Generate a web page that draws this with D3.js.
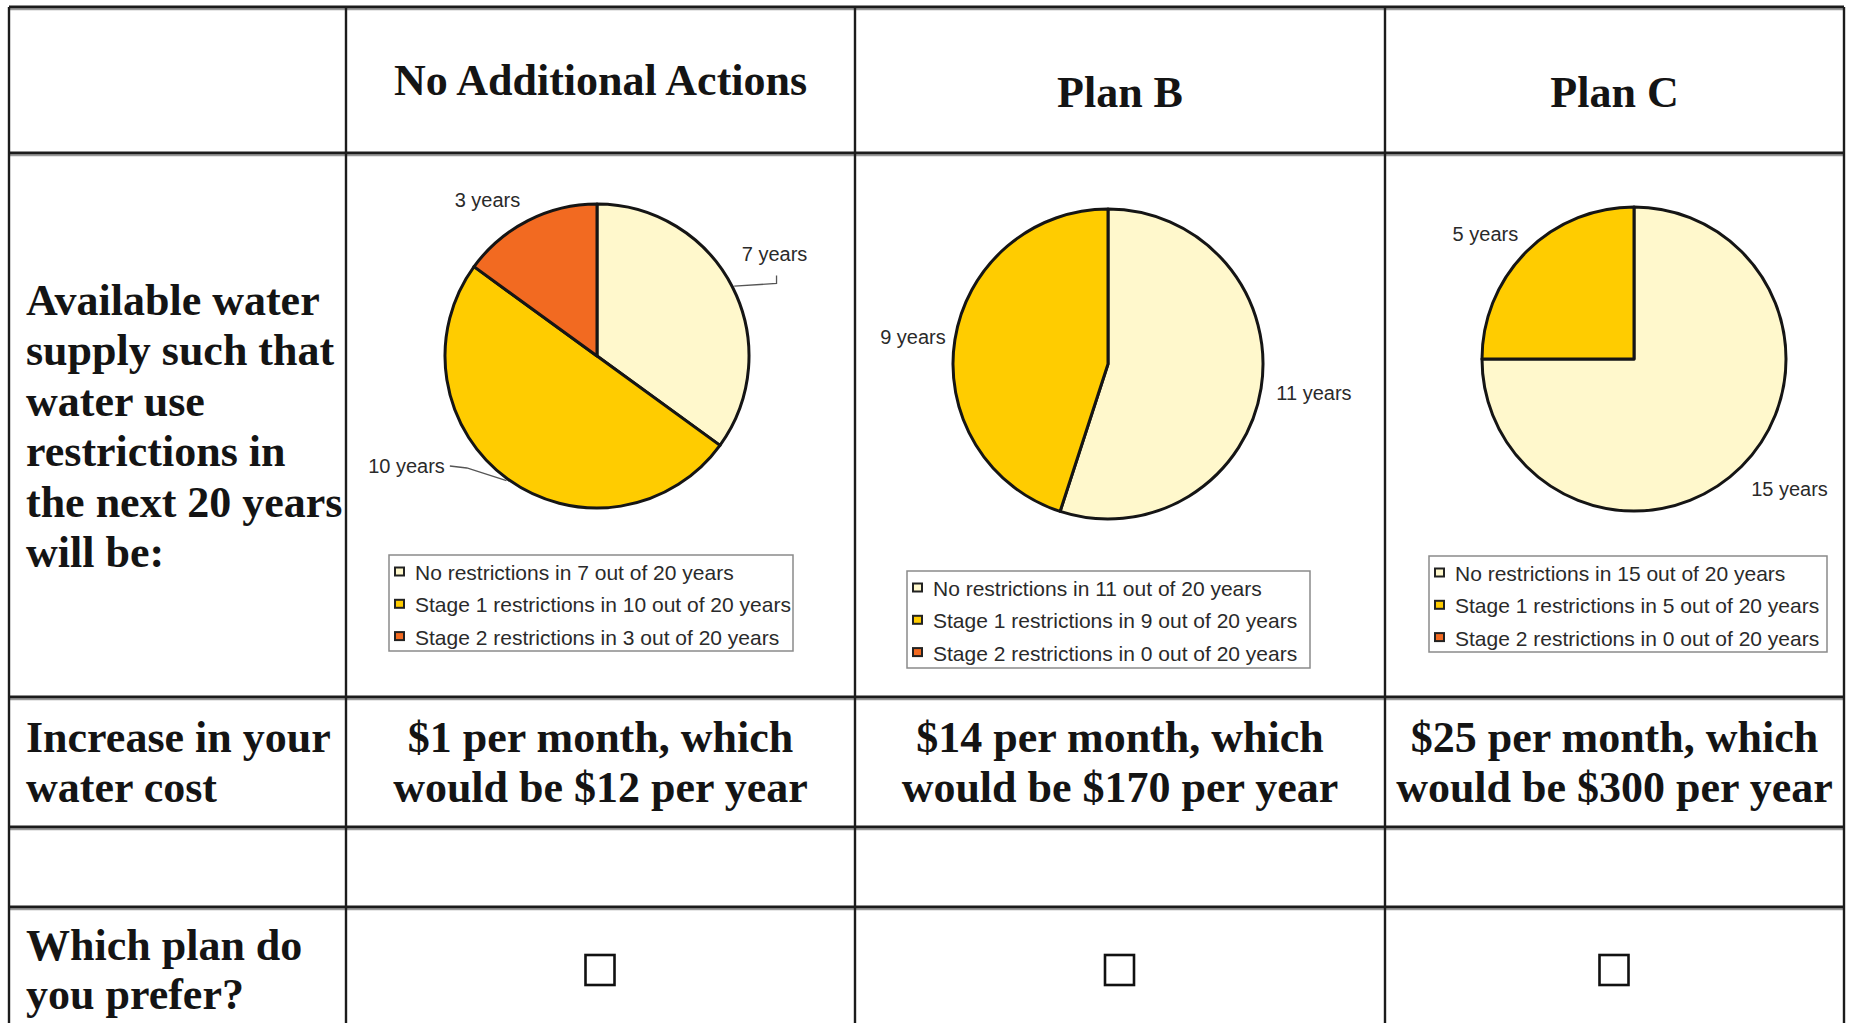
<!DOCTYPE html>
<html>
<head>
<meta charset="utf-8">
<script src="https://cdn.jsdelivr.net/npm/d3@7"></script>
<style>
  html, body { margin: 0; padding: 0; background: #ffffff; }
  svg { display: block; }
  .cell-text { font-family: "Liberation Serif", "Times New Roman", serif; font-weight: bold; fill: #141414; }
  .pie-text { font-family: "Liberation Sans", Arial, sans-serif; fill: #2a2a2a; }
</style>
</head>
<body>
<svg id="chart" width="1849" height="1023"></svg>
<script>
// ---- values ----
const plans = ["No Additional Actions", "Plan B", "Plan C"];
const categories = ["No restrictions", "Stage 1 restrictions", "Stage 2 restrictions"];
const noRestrictionYears = [7, 11, 15];
const stage1Years = [10, 9, 5];
const stage2Years = [3, 0, 0];
const horizonYears = 20;
const costPerMonth = [1, 14, 25];
const costPerYear = [12, 170, 300];

const supplyLabel = ["Available water", "supply such that", "water use", "restrictions in", "the next 20 years", "will be:"];
const costLabel = ["Increase in your", "water cost"];
const preferLabel = ["Which plan do", "you prefer?"];

const sliceColors = ["#FFF8CC", "#FFCC00", "#F26A21"];

// ---- layout ----
const W = 1849, H = 1023;
const colX = [9, 346, 855, 1385, 1844];
const rowY = [7, 153, 697, 827, 907];
const headerBaseline = [95, 107, 107];
const pieLayout = [
  { cx: 597, cy: 356, r: 152 },
  { cx: 1108, cy: 364, r: 155 },
  { cx: 1634, cy: 359, r: 152 }
];
// label angle nudge (deg) and distance beyond the rim, per slice
const labelPlacement = [
  [{ dA: -3, dR: 53, leader: "up" }, { dA: 24, dR: 68, leader: "side" }, { dA: -8, dR: 39 }],
  [{ dA: -1, dR: 53 }, { dA: -1, dR: 42 }, { dA: 0, dR: 40 }],
  [{ dA: -5, dR: 51 }, { dA: -5, dR: 42 }, { dA: 0, dR: 40 }]
];
const legendBox = [
  { x: 389, y: 555, w: 404, h: 96 },
  { x: 907, y: 571, w: 403, h: 97 },
  { x: 1429, y: 556, w: 398, h: 96 }
];

const svg = d3.select("#chart");
svg.append("rect").attr("width", W).attr("height", H).attr("fill", "#ffffff");

const colCenter = i => (colX[i + 1] + colX[i + 2]) / 2;

// ---- pies ----
const pieGen = d3.pie().sort(null).value(d => d.value);

plans.forEach((plan, p) => {
  const L = pieLayout[p];
  const data = categories.map((c, k) => ({
    category: c,
    value: [noRestrictionYears, stage1Years, stage2Years][k][p],
    k
  }));
  const arcs = pieGen(data);
  const arc = d3.arc().innerRadius(0).outerRadius(L.r);
  const g = svg.append("g").attr("transform", `translate(${L.cx},${L.cy})`);

  g.selectAll("path.slice")
    .data(arcs.filter(d => d.value > 0))
    .join("path")
    .attr("class", "slice")
    .attr("d", arc)
    .attr("fill", d => sliceColors[d.data.k])
    .attr("stroke", "#151515")
    .attr("stroke-width", 3)
    .attr("stroke-linejoin", "round");

  // outside labels
  const polar = (angle, rad) => [Math.sin(angle) * rad, -Math.cos(angle) * rad];
  arcs.filter(d => d.value > 0).forEach(d => {
    const pl = labelPlacement[p][d.data.k];
    const mid = (d.startAngle + d.endAngle) / 2;
    const a = mid + pl.dA * Math.PI / 180;
    const [lx, ly] = polar(a, L.r + pl.dR);
    const t = g.append("text")
      .attr("class", "pie-text")
      .attr("x", lx).attr("y", ly)
      .attr("text-anchor", "middle")
      .attr("dominant-baseline", "central")
      .attr("font-size", 20)
      .text(`${d.value} years`);
    if (pl.leader) {
      const w = t.node().getComputedTextLength();
      const [ex, ey] = polar(mid, L.r + 2);
      let pts;
      if (pl.leader === "up") {
        pts = [[lx + 2, ly + 22], [lx + 2, ly + 30], [ex, ey]];
      } else {
        pts = [[lx + w / 2 + 5, ly], [lx + w / 2 + 22, ly + 2], [ex, ey]];
      }
      g.append("path")
        .attr("d", d3.line()(pts))
        .attr("fill", "none")
        .attr("stroke", "#555")
        .attr("stroke-width", 1.3);
    }
  });

  // legend
  const B = legendBox[p];
  const lg = svg.append("g").attr("transform", `translate(${B.x},${B.y})`);
  lg.append("rect")
    .attr("width", B.w).attr("height", B.h)
    .attr("fill", "#ffffff")
    .attr("stroke", "#8a8a8a")
    .attr("stroke-width", 1.5);
  data.forEach((d, k) => {
    const yy = 17.5 + k * 32.3;
    lg.append("rect")
      .attr("x", 6).attr("y", yy - 5)
      .attr("width", 9).attr("height", 8)
      .attr("fill", sliceColors[k])
      .attr("stroke", "#222")
      .attr("stroke-width", 2);
    lg.append("text")
      .attr("class", "pie-text")
      .attr("x", 26).attr("y", yy)
      .attr("dominant-baseline", "central")
      .attr("font-size", 21)
      .text(`${d.category} in ${d.value} out of ${horizonYears} years`);
  });
});

// ---- table text ----
const FS = 44;
plans.forEach((plan, p) => {
  svg.append("text").attr("class", "cell-text")
    .attr("x", colCenter(p)).attr("y", headerBaseline[p])
    .attr("text-anchor", "middle").attr("font-size", FS)
    .text(plan);
  svg.append("text").attr("class", "cell-text")
    .attr("x", colCenter(p)).attr("y", 752)
    .attr("text-anchor", "middle").attr("font-size", FS)
    .text(`$${costPerMonth[p]} per month, which`);
  svg.append("text").attr("class", "cell-text")
    .attr("x", colCenter(p)).attr("y", 802)
    .attr("text-anchor", "middle").attr("font-size", FS)
    .text(`would be $${costPerYear[p]} per year`);
  // check box
  svg.append("rect")
    .attr("x", colCenter(p) - 15).attr("y", 955)
    .attr("width", 29).attr("height", 30)
    .attr("fill", "#ffffff")
    .attr("stroke", "#111")
    .attr("stroke-width", 2.6);
});

supplyLabel.forEach((s, i) => {
  svg.append("text").attr("class", "cell-text")
    .attr("x", 26).attr("y", 315 + i * 50.4)
    .attr("font-size", FS).text(s);
});
costLabel.forEach((s, i) => {
  svg.append("text").attr("class", "cell-text")
    .attr("x", 26).attr("y", 752 + i * 50)
    .attr("font-size", FS).text(s);
});
preferLabel.forEach((s, i) => {
  svg.append("text").attr("class", "cell-text")
    .attr("x", 26).attr("y", 960 + i * 49)
    .attr("font-size", FS).text(s);
});

// ---- grid lines ----
const grid = svg.append("g");
rowY.forEach(y => {
  grid.append("line")
    .attr("x1", colX[0]).attr("x2", colX[colX.length - 1])
    .attr("y1", y + 2.5).attr("y2", y + 2.5)
    .attr("stroke", "#9a9a9a").attr("stroke-width", 1.5);
  grid.append("line")
    .attr("x1", colX[0]).attr("x2", colX[colX.length - 1])
    .attr("y1", y).attr("y2", y)
    .attr("stroke", "#1c1c1c").attr("stroke-width", 3);
});
colX.forEach(x => {
  grid.append("line")
    .attr("x1", x).attr("x2", x)
    .attr("y1", rowY[0]).attr("y2", H)
    .attr("stroke", "#1c1c1c").attr("stroke-width", 2.4);
});
</script>
</body>
</html>
